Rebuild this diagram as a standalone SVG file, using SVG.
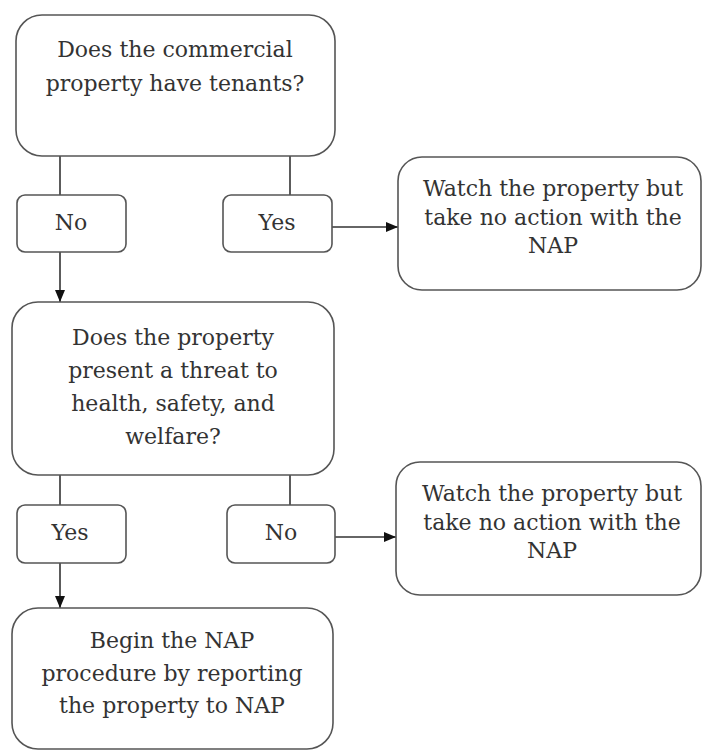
<svg xmlns="http://www.w3.org/2000/svg" width="702" height="752" viewBox="0 0 702 752">
<defs>
<style>
.box{fill:#ffffff;stroke:#555555;stroke-width:1.6}
.t{font-family:"DejaVu Serif","Liberation Serif",serif;font-size:22px;fill:#333333;text-anchor:middle}
.c{stroke:#333333;stroke-width:1.6;fill:none}
</style>
<marker id="ah" viewBox="0 0 10 10" refX="10" refY="5" markerWidth="12" markerHeight="10" markerUnits="userSpaceOnUse" orient="auto" preserveAspectRatio="none">
<path d="M0,0 L10,5 L0,10 z" fill="#111111"/>
</marker>
</defs>
<rect width="702" height="752" fill="#ffffff"/>
<g id="connectors">
<line class="c" x1="60" y1="156" x2="60" y2="195"/>
<line class="c" x1="290" y1="156" x2="290" y2="195"/>
<line class="c" x1="332" y1="227" x2="398" y2="227" marker-end="url(#ah)"/>
<line class="c" x1="60" y1="252" x2="60" y2="302" marker-end="url(#ah)"/>
<line class="c" x1="60" y1="475" x2="60" y2="505"/>
<line class="c" x1="290" y1="475" x2="290" y2="505"/>
<line class="c" x1="335" y1="537" x2="396" y2="537" marker-end="url(#ah)"/>
<line class="c" x1="60" y1="563" x2="60" y2="608" marker-end="url(#ah)"/>
</g>
<g id="q1">
<rect class="box" x="16" y="15" width="319" height="141" rx="26"/>
<text class="t" x="175" y="57">Does the commercial</text>
<text class="t" x="175" y="91">property have tenants?</text>
</g>
<g id="no1">
<rect class="box" x="17" y="195" width="109" height="57" rx="8"/>
<text class="t" x="71" y="230">No</text>
</g>
<g id="yes1">
<rect class="box" x="223" y="195" width="109" height="57" rx="8"/>
<text class="t" x="277" y="230">Yes</text>
</g>
<g id="watch1">
<rect class="box" x="398" y="157" width="303" height="133" rx="24"/>
<text class="t" x="553" y="196">Watch the property but</text>
<text class="t" x="553" y="225">take no action with the</text>
<text class="t" x="553" y="253">NAP</text>
</g>
<g id="q2">
<rect class="box" x="12" y="302" width="322" height="173" rx="26"/>
<text class="t" x="173" y="345">Does the property</text>
<text class="t" x="173" y="378">present a threat to</text>
<text class="t" x="173" y="411">health, safety, and</text>
<text class="t" x="173" y="444">welfare?</text>
</g>
<g id="yes2">
<rect class="box" x="17" y="505" width="109" height="58" rx="8"/>
<text class="t" x="70" y="540">Yes</text>
</g>
<g id="no2">
<rect class="box" x="227" y="505" width="108" height="58" rx="8"/>
<text class="t" x="281" y="540">No</text>
</g>
<g id="watch2">
<rect class="box" x="396" y="462" width="305" height="133" rx="24"/>
<text class="t" x="552" y="501">Watch the property but</text>
<text class="t" x="552" y="530">take no action with the</text>
<text class="t" x="552" y="558">NAP</text>
</g>
<g id="begin">
<rect class="box" x="12" y="608" width="321" height="141" rx="26"/>
<text class="t" x="172" y="648">Begin the NAP</text>
<text class="t" x="172" y="681">procedure by reporting</text>
<text class="t" x="172" y="713">the property to NAP</text>
</g>
</svg>
